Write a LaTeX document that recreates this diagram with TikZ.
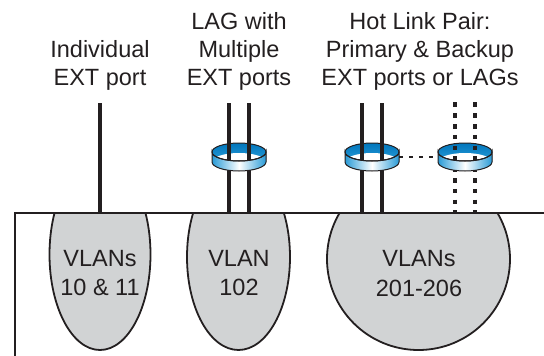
\documentclass[tikz,border=0pt]{standalone}
\usepackage{fontspec}
\setmainfont{Liberation Sans}
\usetikzlibrary{positioning,shapes.geometric}
\definecolor{inkblack}{HTML}{231F20}
\definecolor{vlangray}{HTML}{D1D3D4}
\definecolor{ringblue}{RGB}{41,155,215}
\definecolor{ringdark}{RGB}{0,118,188}

% back half of a LAG ring (blue inner wall and the hole)
\newcommand{\ringback}[1]{%
	\fill[top color=ringdark, bottom color=ringblue] (#1) ellipse[x radius=27, y radius=9];
	\begin{scope}
		\clip ([yshift=-10pt]#1) ellipse[x radius=27, y radius=9];
		\fill[white] (#1) ellipse[x radius=27, y radius=9];
	\end{scope}}
% front band of a LAG ring, drawn over the ports
\newcommand{\ringfront}[1]{%
	\filldraw[ringline, left color=ringblue, right color=ringblue, middle color=white]
	([xshift=-27pt]#1) arc[start angle=180, end angle=360, x radius=27, y radius=9]
	-- ++(0,-10) arc[start angle=360, end angle=180, x radius=27, y radius=9] -- cycle;
	\draw[ringline] (#1) ellipse[x radius=27, y radius=9];}

\begin{document}
\begin{tikzpicture}[
		x=1pt, y=1pt,
		lbl/.style={ % texts above the switch
				align=center, inner sep=0pt, text=inkblack,
				font=\fontsize{23.5}{28}\selectfont
			},
		vtext/.style={lbl, font=\fontsize{23.5}{29.5}\selectfont},
		vlan/.style={
				ellipse, draw=inkblack, line width=1.8pt, fill=vlangray,
				inner sep=0pt, anchor=center
			},
		port/.style={draw=inkblack, line width=4.5pt},
		backup/.style={port, dash pattern=on 4.5pt off 6.3pt},
		ringline/.style={draw=inkblack, line width=1pt},
		boxline/.style={draw=inkblack, line width=1.8pt}
	]
	\useasboundingbox (0,0) rectangle (544,-356);
	% labels
	\node[lbl] (lblInd) at (100,-65) {Individual\\EXT port};
	\node[lbl] (lblLag) at (239,-51) {LAG with\\Multiple\\EXT ports};
	\node[lbl] (lblHot) at (420,-51) {Hot Link Pair:\\Primary \& Backup\\EXT ports or LAGs};
	% switch outline and vlan blobs
	\coordinate (boxtl) at (15,-213);
	\begin{scope}
		\clip (0,-213) rectangle (544,-356);
		\node[vlan, minimum width=101pt, minimum height=191pt] (vlanA) at (100,-254.5) {};
		\node[vlan, minimum width=103pt, minimum height=186pt] (vlanB) at (238.5,-257) {};
		\node[vlan, minimum width=183pt, minimum height=182pt] (vlanC) at (418.5,-259) {};
	\end{scope}
	\node[vtext] (txtA) at (100,-273) {VLANs\\10 \& 11};
	\node[vtext] (txtB) at (239,-273) {VLAN\\102};
	\node[vtext] (txtC) at (419,-273.5) {VLANs\\201-206};
	% port tops
	\coordinate (ind) at (100,-103);
	\coordinate (lagA) at (229,-103);
	\coordinate (lagB) at (249,-103);
	\coordinate (priA) at (362,-103);
	\coordinate (priB) at (382,-103);
	\coordinate (bakA) at (455,-102.4);
	\coordinate (bakB) at (475,-102.4);
	% ring centres
	\coordinate (ringLag) at (239,-152);
	\coordinate (ringPri) at (372,-152);
	\coordinate (ringBak) at (465,-152);
	\ringback{ringLag}
	\ringback{ringPri}
	\ringback{ringBak}
	% ports
	\draw[port] (ind) -- (ind |- boxtl);
	\draw[port] (lagA) -- (lagA |- boxtl);
	\draw[port] (lagB) -- (lagB |- boxtl);
	\draw[port] (priA) -- (priA |- boxtl);
	\draw[port] (priB) -- (priB |- boxtl);
	\draw[backup] (bakA) -- (bakA |- boxtl);
	\draw[backup] (bakB) -- (bakB |- boxtl);
	\draw[boxline] (15,-356) -- (boxtl) -- (544,-213);
	% rings in front
	\ringfront{ringLag}
	\ringfront{ringPri}
	\ringfront{ringBak}
	% hot link pairing
	\coordinate (pairE) at (399,-157);
	\coordinate (pairW) at (438,-157);
	\draw[inkblack, line width=2.5pt, dash pattern=on 4pt off 6pt] (pairE) -- (pairW);
\end{tikzpicture}
\end{document}
